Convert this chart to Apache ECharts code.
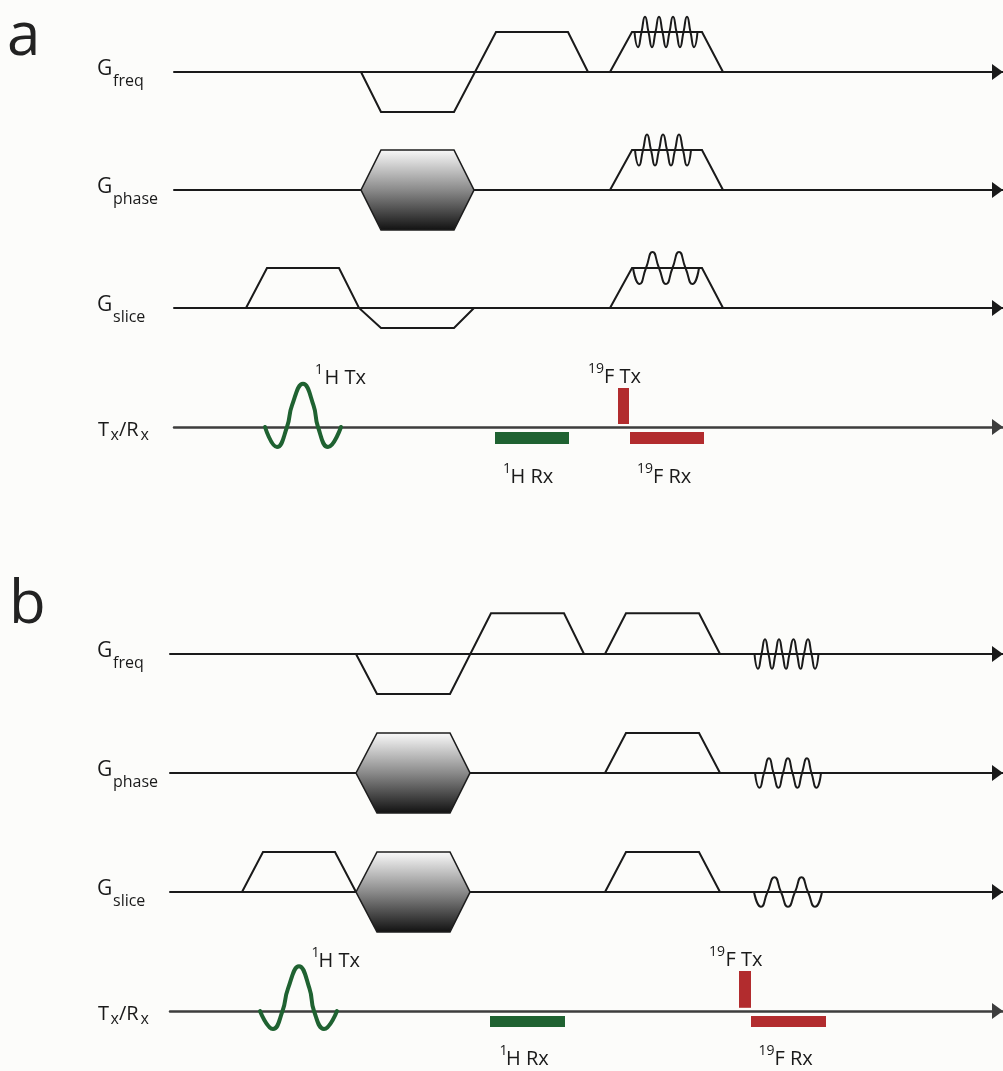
<!DOCTYPE html>
<html><head><meta charset="utf-8">
<script src="https://cdn.jsdelivr.net/npm/echarts@6/dist/echarts.min.js"></script>
<style>html,body{margin:0;padding:0;background:#fcfcfa}#c{width:1003px;height:1071px}</style>
</head><body><div id="c"></div>
<script>
// ===== DATA (time in sequence units, amplitude in gradient units) =====
// ---- panel a ----
const aFreqLobe  = [[19.1,0],[21.1,-1],[28.4,-1],[32.6,1],[39.8,1],[41.8,0]];
const aFreqRead  = [[44.0,0],[46.2,1],[53.2,1],[55.3,0]];
const aFreqWave  = [[46.45,1],[46.8,0.62],[47.15,1],[47.5,1.38],[47.85,1],[48.2,0.62],[48.55,1],[48.9,1.38],[49.25,1],[49.6,0.62],[49.95,1],[50.3,1.38],[50.65,1],[51.0,0.62],[51.35,1],[51.7,1.38],[52.05,1],[52.4,0.62],[52.75,1]];
const aPhaseHex  = [[19.1,21.1,28.4,30.4,1]];
const aPhaseRead = [[44.0,0],[46.2,1],[53.2,1],[55.3,0]];
const aPhaseWave = [[46.5,1],[46.9,0.61],[47.3,1],[47.7,1.39],[48.1,1],[48.5,0.61],[48.9,1],[49.3,1.39],[49.7,1],[50.1,0.61],[50.5,1],[50.9,1.39],[51.3,1],[51.7,0.61],[52.1,1]];
const aSliceLobe = [[7.6,0],[9.7,1],[16.9,1],[18.9,0],[21.1,-0.5],[28.4,-0.5],[30.4,0]];
const aSliceRead = [[44.0,0],[46.2,1],[53.2,1],[55.3,0]];
const aSliceWave = [[46.3,1],[46.95,0.6],[47.6,1],[48.25,1.4],[48.9,1],[49.6,0.6],[50.25,1],[50.9,1.4],[51.55,1],[52.25,0.6],[52.9,1]];
const aSinc      = [[9.5,0],[10.7,-0.5],[11.7,0],[12.2,0.54],[13.3,1.08],[14.35,0.54],[14.8,0],[15.8,-0.5],[17.1,0]];
const aH1Rx      = [[32.5,39.9,-0.125,-0.425]];
const aF19Tx     = [[44.8,45.9,0.975,0.075]];
const aF19Rx     = [[46.0,53.4,-0.125,-0.425]];
// ---- panel b ----
const bFreqLobe  = [[18.6,0],[20.7,-1],[28.0,-1],[32.1,1.02],[39.4,1.02],[41.4,0]];
const bFreqRead  = [[43.5,0],[45.6,1.02],[52.9,1.02],[55.0,0]];
const bFreqWave  = [[58.45,0],[58.8,-0.37],[59.15,0],[59.5,0.37],[59.85,0],[60.2,-0.37],[60.55,0],[60.9,0.37],[61.25,0],[61.6,-0.37],[61.95,0],[62.35,0.37],[62.7,0],[63.05,-0.37],[63.4,0],[63.8,0.37],[64.15,0],[64.5,-0.37],[64.85,0]];
const bPhaseHex  = [[18.6,20.7,28.0,30.0,1]];
const bPhaseRead = [[43.5,0],[45.6,1],[52.9,1],[55.0,0]];
const bPhaseWave = [[58.5,0],[58.95,-0.37],[59.4,0],[59.9,0.37],[60.35,0],[60.85,-0.37],[61.3,0],[61.8,0.37],[62.25,0],[62.75,-0.37],[63.2,0],[63.7,0.37],[64.15,0],[64.65,-0.37],[65.1,0]];
const bSliceLobe = [[7.2,0],[9.3,1],[16.5,1],[18.6,0]];
const bSliceHex  = [[18.6,20.7,28.0,30.0,1]];
const bSliceRead = [[43.5,0],[45.6,1],[52.9,1],[55.0,0]];
const bSliceWave = [[58.4,0],[59.1,-0.37],[59.75,0],[60.45,0.37],[61.1,0],[61.8,-0.37],[62.5,0],[63.15,0.37],[63.8,0],[64.5,-0.37],[65.2,0]];
const bSinc      = [[9.0,0],[10.3,-0.45],[11.25,0],[11.8,0.56],[12.9,1.12],[13.95,0.56],[14.4,0],[15.4,-0.45],[16.7,0]];
const bH1Rx      = [[32.0,39.5,-0.125,-0.4]];
const bF19Tx     = [[56.9,58.1,1.0,0.08]];
const bF19Rx     = [[58.1,65.6,-0.125,-0.4]];

// ===== LAYOUT =====
const FONT = '"Open Sans", "Noto Sans", sans-serif';
const INK = '#1a1a1a', GREEN = '#1f6231', RED = '#b22c2e', TEXT = '#1a1a1a';
const rows = [
  {base:72,  left:174, min:0.4, line:INK},
  {base:190, left:174, min:0.4, line:INK},
  {base:308, left:174, min:0.4, line:INK},
  {base:427, left:174, min:0.4, line:'#3d3d3d'},
  {base:654, left:170, min:0,   line:INK},
  {base:773, left:170, min:0,   line:INK},
  {base:892, left:170, min:0,   line:INK},
  {base:1011,left:170, min:0,   line:'#3d3d3d'}
];
const grid = rows.map(r => ({left:r.left, right:0, top:r.base-60, height:120}));
const xAxis = rows.map((r,i) => ({
  type:'value', gridIndex:i, min:r.min, max:83.3,
  axisLine:{show:true, onZero:true, symbol:['none','triangle'], symbolSize:[16,11], symbolOffset:[0,-5.5],
    lineStyle:{color:r.line, width: (i%4===3)?2.5:2}},
  axisTick:{show:false}, axisLabel:{show:false}, splitLine:{show:false}
}));
const yAxis = rows.map((r,i) => ({type:'value', gridIndex:i, min:-1.5, max:1.5, show:false}));

function line(idx, data, opts) {
  opts = opts || {};
  return {type:'line', xAxisIndex:idx, yAxisIndex:idx, data:data, showSymbol:false, symbol:'none',
    smooth: opts.smooth || false, clip:false, z: opts.z || 3,
    lineStyle:{color: opts.color || INK, width: opts.width || 2, cap:'round', join:'miter'}, silent:true, animation:false};
}
function hexRender(params, api) {
  const tl = api.value(0), t1 = api.value(1), t2 = api.value(2), tr = api.value(3), amp = api.value(4);
  const pts = [[tl,0],[t1,amp],[t2,amp],[tr,0],[t2,-amp],[t1,-amp]].map(p => api.coord(p));
  return {type:'polygon', shape:{points:pts}, style:{
    fill: new echarts.graphic.LinearGradient(0,0,0,1,[{offset:0,color:'#fbfbfb'},{offset:0.5,color:'#8a8a8a'},{offset:1,color:'#101010'}]),
    stroke:'#1e1e1e', lineWidth:1.6}};
}
function hex(idx, data) {
  return {type:'custom', xAxisIndex:idx, yAxisIndex:idx, data:data, renderItem:hexRender, z:4, silent:true, animation:false};
}
function barRender(params, api) {
  const p0 = api.coord([api.value(0), api.value(2)]);
  const p1 = api.coord([api.value(1), api.value(3)]);
  return {type:'rect', shape:{x:Math.min(p0[0],p1[0]), y:Math.min(p0[1],p1[1]), width:Math.abs(p1[0]-p0[0]), height:Math.abs(p1[1]-p0[1])},
    style:{fill: api.visual('color')}};
}
function bar(idx, data, color) {
  return {type:'custom', xAxisIndex:idx, yAxisIndex:idx, data:data, renderItem:barRender, itemStyle:{color:color}, z:4, silent:true, animation:false};
}
const W = {smooth:0.6, width:2};
const S = {smooth:0.5, width:4, color:GREEN};
const series = [
  line(0, aFreqLobe), line(0, aFreqRead), line(0, aFreqWave, W),
  hex(1, aPhaseHex), line(1, aPhaseRead), line(1, aPhaseWave, W),
  line(2, aSliceLobe), line(2, aSliceRead), line(2, aSliceWave, W),
  line(3, aSinc, S), bar(3, aH1Rx, GREEN), bar(3, aF19Tx, RED), bar(3, aF19Rx, RED),
  line(4, bFreqLobe), line(4, bFreqRead), line(4, bFreqWave, W),
  hex(5, bPhaseHex), line(5, bPhaseRead), line(5, bPhaseWave, W),
  line(6, bSliceLobe), hex(6, bSliceHex), line(6, bSliceRead), line(6, bSliceWave, W),
  line(7, bSinc, S), bar(7, bH1Rx, GREEN), bar(7, bF19Tx, RED), bar(7, bF19Rx, RED)
];

function txt(x, y, s, size, color) {
  return {type:'text', x:x, y:y, silent:true, style:{text:s, font: size+'px '+FONT, fill: color || TEXT, textAlign:'left', textVerticalAlign:'middle', verticalAlign:'middle'}};
}
function gLabel(base, sub) {
  return [txt(97, base-3, 'G', 21), txt(113, base+9, sub, 16)];
}
function txLabel(base) {
  return [txt(98, base+3, 'T', 20), txt(110.5, base+8, 'x', 16), txt(119, base+3, '/R', 20), txt(140.5, base+8, 'x', 16)];
}
function supLabel(xs, xm, ym, sup, main) {
  return [txt(xs, ym-8, sup, 14), txt(xm, ym, main, 20)];
}
const graphic = [
  txt(7, 38, 'a', 60, '#222'), txt(9, 606, 'b', 60, '#222'),
  ...gLabel(72,'freq'), ...gLabel(190,'phase'), ...gLabel(308,'slice'), ...txLabel(427),
  ...gLabel(654,'freq'), ...gLabel(773,'phase'), ...gLabel(892,'slice'), ...txLabel(1011),
  ...supLabel(315, 324.5, 378, '1', 'H Tx'),
  ...supLabel(588, 604, 377, '19', 'F Tx'),
  ...supLabel(503, 510.5, 477.5, '1', 'H Rx'),
  ...supLabel(637, 653, 477, '19', 'F Rx'),
  ...supLabel(311.5, 318.5, 961.5, '1', 'H Tx'),
  ...supLabel(709, 725.5, 960, '19', 'F Tx'),
  ...supLabel(499.5, 506, 1059, '1', 'H Rx'),
  ...supLabel(758.5, 774.5, 1059, '19', 'F Rx')
];

const chart = echarts.init(document.getElementById('c'), null, {renderer:'canvas'});
chart.setOption({backgroundColor:'#fcfcfa', animation:false, grid, xAxis, yAxis, series, graphic});
</script></body></html>
